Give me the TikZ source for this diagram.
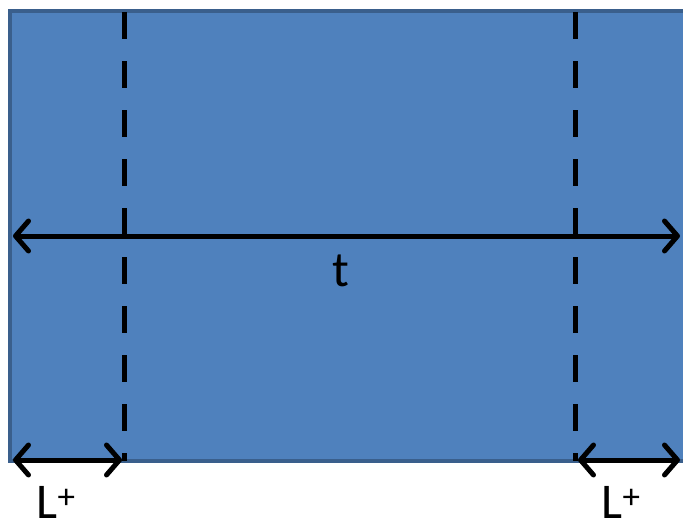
\documentclass[tikz,border=0pt]{standalone}
\usepackage{fontspec}
\setmainfont{Carlito}
\usetikzlibrary{arrows.meta}
\definecolor{boxblue}{HTML}{4F81BD}
\definecolor{boxedge}{HTML}{3A5F8C}
\begin{document}
\begin{tikzpicture}[x=1pt, y=-1pt,
  barb/.tip={Straight Barb[length=13pt, width=30pt, round]},
  dim/.style={line width=5pt, barb-barb},
  cut/.style={line width=5pt, dash pattern=on 27pt off 22pt},
  lbl/.style={font=\fontsize{50}{58}\selectfont, inner sep=0pt, anchor=base}]
\useasboundingbox (0,0) rectangle (683,525);
\fill[boxblue] (10,11) rectangle (690,461);
\draw[boxedge, line width=4pt] (690,11) -- (10,11) -- (10,461) -- (690,461);
\coordinate (c1a) at (124,12);
\coordinate (c1b) at (124,461);
\coordinate (c2a) at (575,12);
\coordinate (c2b) at (575,461);
\coordinate (ta) at (13,236);
\coordinate (tb) at (680,236);
\coordinate (la) at (13,460);
\coordinate (lb) at (122,460);
\coordinate (ra) at (578,460);
\coordinate (rb) at (680,460);
\draw[cut] (c1a) -- (c1b);
\draw[cut] (c2a) -- (c2b);
\draw[dim] (ta) -- (tb);
\draw[dim] (la) -- (lb);
\draw[dim] (ra) -- (rb);
\node[lbl] (t) at (341,286) {t};
\node[lbl] (l1) at (56,518) {L\textsuperscript{+}};
\node[lbl] (l2) at (621,518) {L\textsuperscript{+}};
\end{tikzpicture}
\end{document}
